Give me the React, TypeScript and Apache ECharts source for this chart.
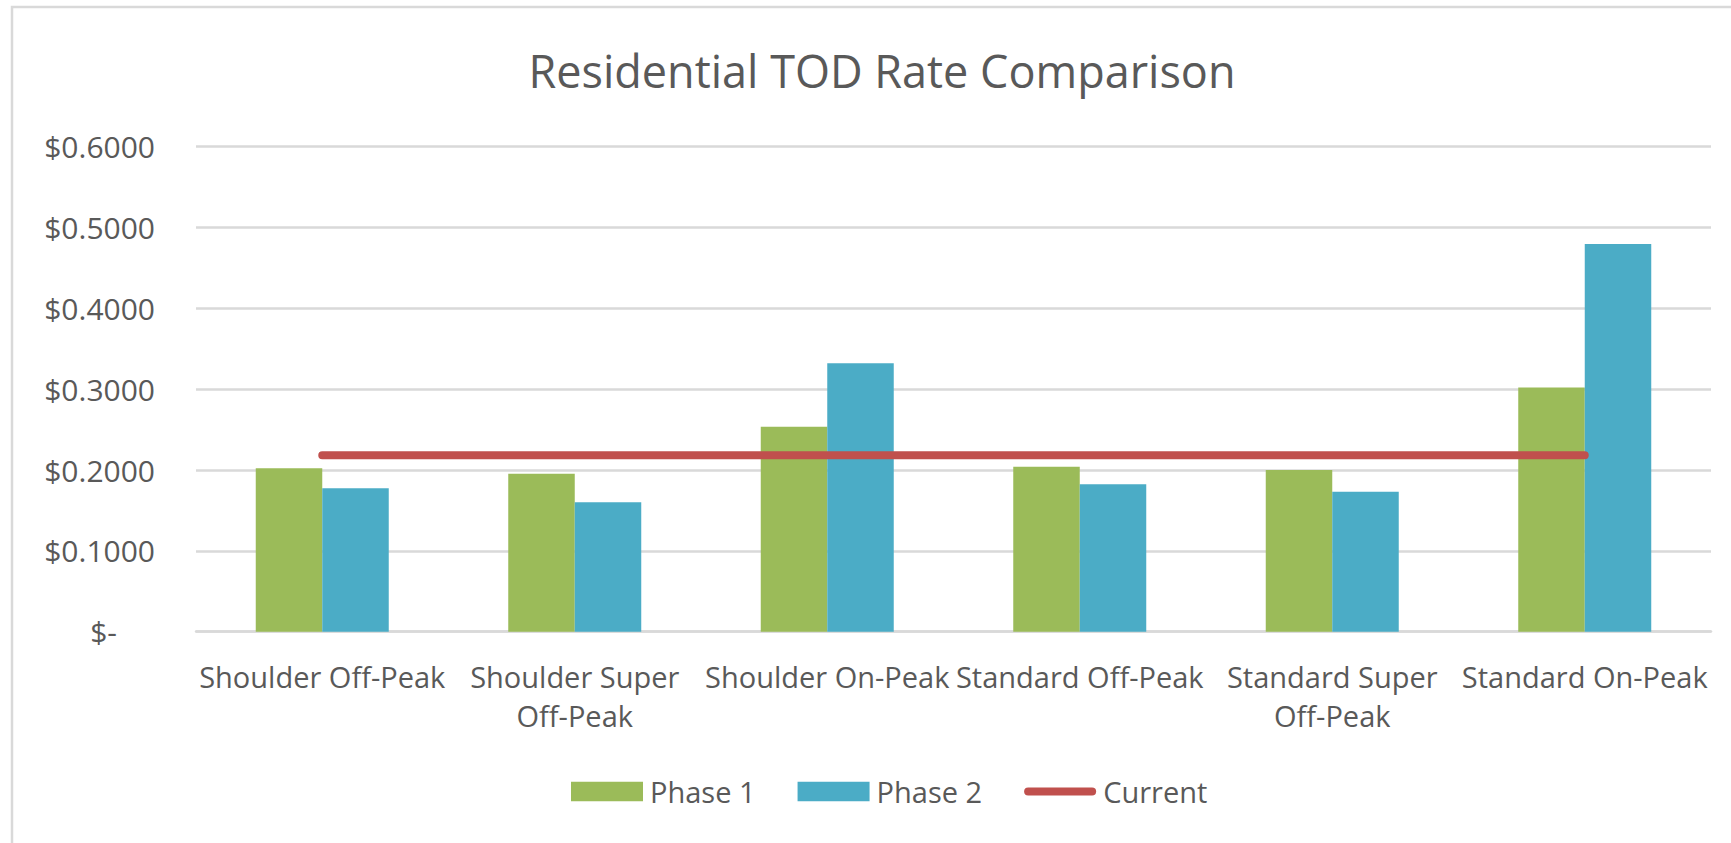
import React, { useEffect, useRef } from "react";
import * as echarts from "echarts";

const categories = [
  "Shoulder Off-Peak",
  "Shoulder Super Off-Peak",
  "Shoulder On-Peak",
  "Standard Off-Peak",
  "Standard Super Off-Peak",
  "Standard On-Peak",
];
const phase1 = [0.2021, 0.1955, 0.2536, 0.204, 0.2, 0.3022];
const phase2 = [0.1774, 0.16, 0.332, 0.1823, 0.1732, 0.4796];
const current = [0.2182, 0.2182, 0.2182, 0.2182, 0.2182, 0.2182];
const yTicks = { min: 0, max: 0.6, interval: 0.1 };

const FONT = "'Open Sans', 'Noto Sans', sans-serif";
const TEXT = "#595959";

export default function App() {
  const ref = useRef<HTMLDivElement>(null);
  useEffect(() => {
    document.body.style.margin = "0";
    if (!ref.current) return;
    const chart = echarts.init(ref.current, null, { renderer: "svg" });
    chart.setOption({
      animation: false,
      backgroundColor: "#ffffff",
      textStyle: { fontFamily: FONT },
      title: {
        text: "Residential TOD Rate Comparison",
        left: 882,
        top: 48,
        padding: 0,
        textAlign: "center",
        textStyle: { fontSize: 45, fontWeight: "normal", color: TEXT, fontFamily: FONT },
      },
      graphic: [
        {
          type: "rect",
          shape: { x: 12, y: 7, width: 3000, height: 3000 },
          style: { fill: "none", stroke: "#d9d9d9", lineWidth: 2.5 },
          silent: true,
          z: -10,
        },
      ],
      legend: {
        left: 571,
        top: 777,
        padding: 0,
        itemWidth: 72,
        itemHeight: 19.5,
        itemGap: 42,
        textStyle: { fontSize: 29, color: TEXT, fontFamily: FONT, padding: [0, 0, 0, 2] },
        data: [
          { name: "Phase 1", icon: "rect" },
          { name: "Phase 2", icon: "rect" },
          {
            name: "Current",
            icon: "path://M4.5,0 L75.5,0 A4.5,4.5 0 0 1 75.5,9 L4.5,9 A4.5,4.5 0 0 1 4.5,0 Z",
          },
        ],
      },
      grid: { left: 196, right: 20, top: 146.7, bottom: 211.3, containLabel: false },
      xAxis: {
        type: "category",
        data: categories,
        axisLine: { show: true, lineStyle: { color: "#d9d9d9", width: 2.5 } },
        axisTick: { show: false },
        axisLabel: {
          interval: 0,
          margin: 25,
          fontSize: 29,
          lineHeight: 39,
          color: TEXT,
          fontFamily: FONT,
          formatter: (v: string) => v.replace("Super ", "Super\n"),
        },
      },
      yAxis: {
        type: "value",
        min: yTicks.min,
        max: yTicks.max,
        interval: yTicks.interval,
        axisLine: { show: false },
        axisTick: { show: false },
        splitLine: { lineStyle: { color: "#d9d9d9", width: 2.5 } },
        axisLabel: {
          margin: 41,
          fontSize: 30,
          color: TEXT,
          fontFamily: FONT,
          formatter: (v: number) => (v === 0 ? "{z|$-}" : "$" + v.toFixed(4)),
          rich: { z: { fontSize: 30, color: TEXT, fontFamily: FONT, padding: [0, 38, 0, 0] } },
        },
      },
      series: [
        {
          name: "Phase 1",
          type: "bar",
          data: phase1,
          barWidth: 66.5,
          barGap: "0%",
          itemStyle: { color: "#9BBB59" },
        },
        {
          name: "Phase 2",
          type: "bar",
          data: phase2,
          barWidth: 66.5,
          barGap: "0%",
          itemStyle: { color: "#4BACC6" },
        },
        {
          name: "Current",
          type: "line",
          data: current,
          symbol: "none",
          z: 5,
          itemStyle: { color: "#C0504D" },
          lineStyle: { color: "#C0504D", width: 8, cap: "round" },
        },
      ],
    });
    return () => chart.dispose();
  }, []);
  return <div ref={ref} style={{ width: 1731, height: 843 }} />;
}
